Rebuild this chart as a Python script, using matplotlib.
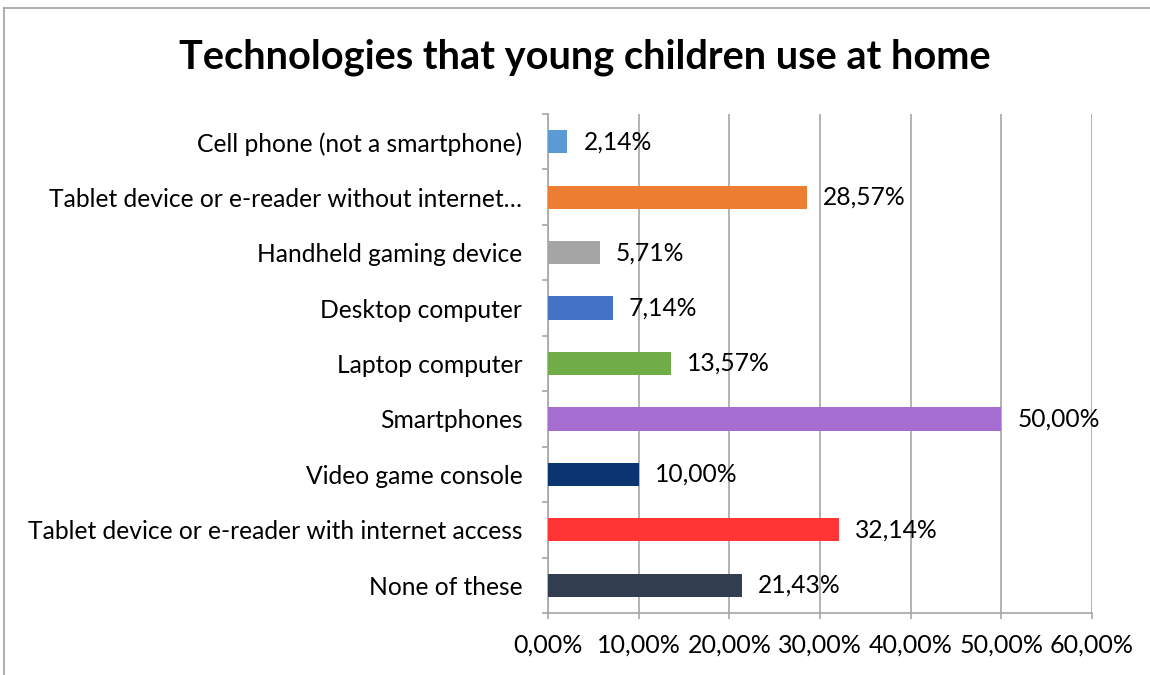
import matplotlib
matplotlib.use("Agg")
import matplotlib.pyplot as plt
from matplotlib.ticker import FuncFormatter, MultipleLocator
from matplotlib.lines import Line2D

categories = [
    "Cell phone (not a smartphone)",
    "Tablet device or e-reader without internet…",
    "Handheld gaming device",
    "Desktop computer",
    "Laptop computer",
    "Smartphones",
    "Video game console",
    "Tablet device or e-reader with internet access",
    "None of these",
]
values = [2.14, 28.57, 5.71, 7.14, 13.57, 50.00, 10.00, 32.14, 21.43]
colors = ["#5B9BD5", "#ED7D31", "#A5A5A5", "#4472C4", "#70AD47",
          "#A66DD0", "#0B3570", "#FF3434", "#333D50"]
title = "Technologies that young children use at home"

plt.rcParams['font.family'] = ['Lato', 'DejaVu Sans']

fig = plt.figure(figsize=(11.5, 6.75), dpi=100)
ax = fig.add_axes([548/1150, 1-613/675, (1092-548)/1150, (613-114)/675])

y = list(range(len(categories)))
ax.barh(y, values, height=0.42, color=colors, zorder=3)
ax.set_ylim(len(categories) - 0.5, -0.5)
ax.set_xlim(0, 60)
ax.xaxis.set_major_locator(MultipleLocator(10))
ax.xaxis.set_major_formatter(FuncFormatter(lambda v, p: f"{v:.2f}%".replace(".", ",")))
ax.grid(axis='x', color='#A6A6A6', linewidth=1.2, zorder=0)
ax.set_yticks(y)
ax.set_yticklabels(categories)
ax.tick_params(axis='y', length=0, pad=18.5, labelsize=17.7, colors='#000000')
ax.set_yticks([i + 0.5 for i in range(-1, len(categories))], minor=True)
ax.tick_params(axis='y', which='minor', length=4.5, width=1.2, color='#A6A6A6')
ax.tick_params(axis='x', length=4.5, width=1.2, color='#A6A6A6', labelsize=18, pad=10)

for s in ['top', 'right']:
    ax.spines[s].set_visible(False)
for s in ['left', 'bottom']:
    ax.spines[s].set_color('#A6A6A6')
    ax.spines[s].set_linewidth(1.2)

for i, v in enumerate(values):
    ax.annotate(f"{v:.2f}%".replace(".", ","), (v, i), xytext=(16, 0),
                textcoords='offset pixels', va='center', ha='left', fontsize=17.7)

fig.text(585/1150, 1-57/675, title, ha='center', va='center', fontsize=28.6, fontweight='bold')

# outer chart border (partially visible)
fig.add_artist(Line2D([4/1150, 4/1150], [0, 1-8/675], color='#A0A0A0', lw=1.2, transform=fig.transFigure))
fig.add_artist(Line2D([4/1150, 1], [1-8/675, 1-8/675], color='#A0A0A0', lw=1.2, transform=fig.transFigure))

fig.savefig("out.png", dpi=100)
